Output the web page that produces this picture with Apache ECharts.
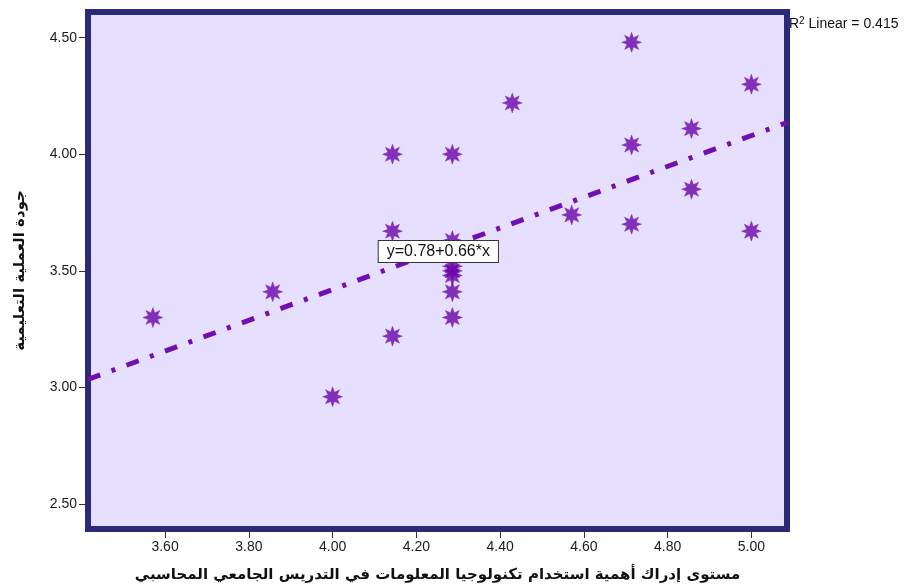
<!DOCTYPE html>
<html>
<head>
<meta charset="utf-8">
<script src="https://cdn.jsdelivr.net/npm/echarts@6/dist/echarts.min.js"></script>
<style>
  html, body { margin: 0; padding: 0; background: #ffffff; }
  #chart { width: 912px; height: 588px; }
</style>
</head>
<body>
<div id="chart"></div>
<script>
// Observations: practice score (x) and teaching-quality score (y)
var xValues = [3.571, 3.857, 4.000, 4.143, 4.143, 4.143, 4.286, 4.286, 4.286, 4.286, 4.286, 4.286, 4.286,
               4.429, 4.571, 4.714, 4.714, 4.714, 4.857, 4.857, 5.000, 5.000];
var yValues = [3.30, 3.41, 2.96, 4.00, 3.67, 3.22, 4.00, 3.63, 3.52, 3.50, 3.48, 3.41, 3.30,
               4.22, 3.74, 4.48, 4.04, 3.70, 4.11, 3.85, 4.30, 3.67];

// Fitted linear model
var fitIntercept = [0.78];
var fitSlope = [0.66];
var rSquared = [0.415];

// Axis tick labels
var xTicks = [3.60, 3.80, 4.00, 4.20, 4.40, 4.60, 4.80, 5.00];
var yTicks = [2.50, 3.00, 3.50, 4.00, 4.50];

var xTitle = 'مستوى إدراك أهمية استخدام تكنولوجيا المعلومات في التدريس الجامعي المحاسبي';
var yTitle = 'جودة العملية التعليمية';

var X_MIN = 3.416, X_MAX = 5.085;
var Y_MIN = 2.393, Y_MAX = 4.610;

// eight-pointed star marker
function starPath(n, rOut, rIn) {
  var pts = [];
  for (var i = 0; i < n * 2; i++) {
    var r = (i % 2 === 0) ? rOut : rIn;
    var a = Math.PI * i / n - Math.PI / 2;
    pts.push((r * Math.cos(a)).toFixed(2) + ' ' + (r * Math.sin(a)).toFixed(2));
  }
  return 'path://M' + pts.join(' L') + ' Z';
}

var points = xValues.map(function (x, i) { return [x, yValues[i]]; });
var b0 = fitIntercept[0], b1 = fitSlope[0];
var fitLine = [[X_MIN, b0 + b1 * X_MIN], [X_MAX, b0 + b1 * X_MAX]];
var eqText = 'y=' + b0.toFixed(2) + '+' + b1.toFixed(2) + '*x';

var chart = echarts.init(document.getElementById('chart'), null, { renderer: 'canvas' });
var labelFont = 'Arial, "Liberation Sans", sans-serif';
var arabicFont = '"DejaVu Sans", "Noto Sans", Arial, sans-serif';

chart.setOption({
  animation: false,
  backgroundColor: '#ffffff',
  title: {
    left: 784, top: 11,
    text: '{r|R}{s|2}{r| Linear = ' + rSquared[0].toFixed(3) + '}',
    textStyle: {
      fontWeight: 'normal',
      rich: {
        r: { fontSize: 14, fontFamily: labelFont, fontWeight: 'normal', color: '#111' },
        s: { fontSize: 10, fontFamily: labelFont, fontWeight: 'normal', color: '#111', verticalAlign: 'top', padding: [0, 0, 6, 0] }
      }
    }
  },
  grid: {
    left: 88, right: 125, top: 12, bottom: 59,
    show: true,
    backgroundColor: '#e6e0fe',
    borderColor: '#2b2a78',
    borderWidth: 6,
    z: 0
  },
  xAxis: {
    type: 'value',
    min: X_MIN, max: X_MAX,
    name: xTitle,
    nameLocation: 'middle',
    nameGap: 39,
    nameTextStyle: { fontFamily: arabicFont, fontWeight: 'bold', fontSize: 15, color: '#111' },
    axisLine: { show: false },
    axisTick: { show: true, length: 9, customValues: xTicks, lineStyle: { color: '#333', width: 1 } },
    axisLabel: {
      customValues: xTicks, margin: 11, fontSize: 14, fontFamily: labelFont, color: '#1a1a1a',
      formatter: function (v) { return v.toFixed(2); }
    },
    splitLine: { show: false }
  },
  yAxis: {
    type: 'value',
    min: Y_MIN, max: Y_MAX,
    name: yTitle,
    nameLocation: 'middle',
    nameRotate: 90,
    nameGap: 60,
    nameTextStyle: { fontFamily: arabicFont, fontWeight: 'bold', fontSize: 15, color: '#111' },
    axisLine: { show: false },
    axisTick: { show: true, length: 9, customValues: yTicks, lineStyle: { color: '#333', width: 1 } },
    axisLabel: {
      customValues: yTicks, margin: 11, fontSize: 14, fontFamily: labelFont, color: '#1a1a1a',
      formatter: function (v) { return v.toFixed(2); }
    },
    splitLine: { show: false }
  },
  series: [
    {
      type: 'line',
      data: fitLine,
      symbol: 'none',
      clip: true,
      z: 2,
      lineStyle: { color: '#7010b0', width: 5, type: [13, 12, 4, 12], cap: 'butt' },
      markPoint: {
        symbol: 'rect',
        symbolSize: 1,
        itemStyle: { color: 'rgba(0,0,0,0)' },
        data: [{ coord: [4.2525, 3.583] }],
        label: {
          show: true,
          position: 'inside',
          formatter: eqText,
          fontSize: 16,
          fontFamily: labelFont,
          color: '#111',
          backgroundColor: '#ffffff',
          borderColor: '#333333',
          borderWidth: 1,
          padding: [3, 8, 2, 8]
        },
        z: 5
      }
    },
    {
      type: 'scatter',
      data: points,
      symbol: starPath(8, 10, 5),
      symbolSize: 20,
      z: 3,
      itemStyle: { color: '#6a04a8', borderColor: '#7a20c0', borderWidth: 0.5 }
    }
  ]
});
</script>
</body>
</html>
